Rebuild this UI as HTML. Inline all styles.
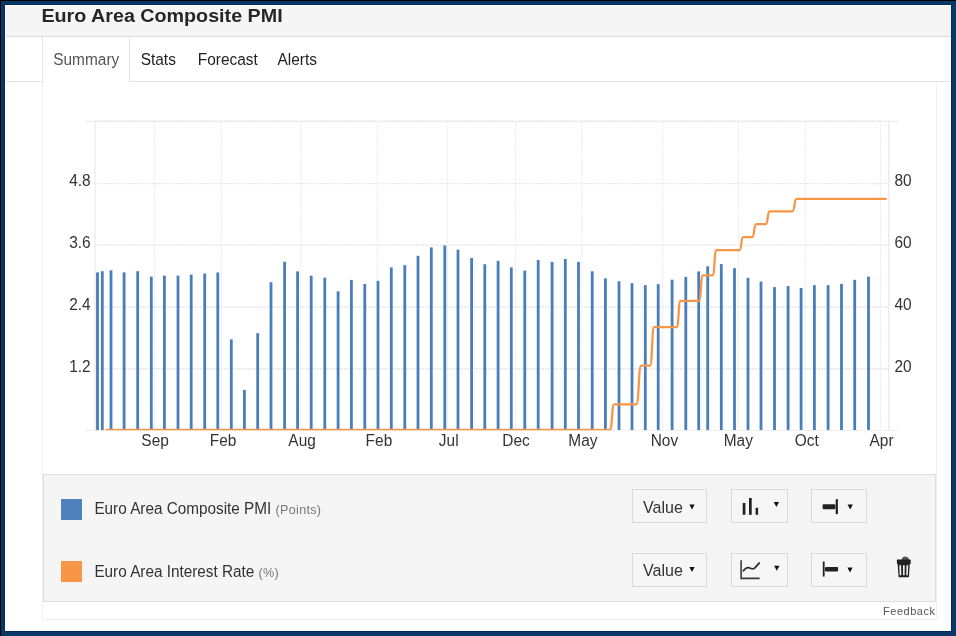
<!DOCTYPE html>
<html><head><meta charset="utf-8"><style>
html,body{margin:0;padding:0;}
body{will-change:transform;width:956px;height:636px;position:relative;overflow:hidden;background:#093866;font-family:"Liberation Sans",sans-serif;}
.abs{position:absolute;}
svg text{font-family:"Liberation Sans",sans-serif;}
</style></head><body>
<div class="abs" style="left:0;top:0;width:956px;height:1px;background:#000"></div>
<div class="abs" style="left:0;top:0;width:1px;height:636px;background:#000"></div>
<div class="abs" style="left:4px;top:4px;width:948px;height:628px;background:#012c5a"></div>
<div class="abs" style="left:5px;top:5px;width:946px;height:626px;background:#fff"></div>
<div class="abs" style="left:6px;top:6px;width:945px;height:30px;background:#f5f5f5;border-bottom:1px solid #dcdcdc"></div>
<div class="abs" style="left:6px;top:81px;width:944px;height:1px;background:#e2e2e2"></div>
<div class="abs" style="left:42px;top:37px;width:86.4px;height:45px;background:#fff;border-left:1px solid #e6e6e6;border-right:1px solid #e2e2e2"></div>
<div class="abs" style="left:42px;top:82px;width:893.4px;height:537px;border-left:1px solid #f0f0f0;border-right:1px solid #f2f2f2;border-bottom:1px solid #f2f2f2"></div>
<svg class="abs" width="956" height="636" viewBox="0 0 956 636" style="left:0;top:0">
<g><line x1="95" y1="183.6" x2="888.7" y2="183.6" stroke="#e8e8e8" stroke-width="1.4" stroke-dasharray="2.2,0.8"/><line x1="95" y1="245.3" x2="888.7" y2="245.3" stroke="#e8e8e8" stroke-width="1.4" stroke-dasharray="2.2,0.8"/><line x1="95" y1="307.0" x2="888.7" y2="307.0" stroke="#e8e8e8" stroke-width="1.4" stroke-dasharray="2.2,0.8"/><line x1="95" y1="368.8" x2="888.7" y2="368.8" stroke="#e8e8e8" stroke-width="1.4" stroke-dasharray="2.2,0.8"/><line x1="95" y1="121.3" x2="888.7" y2="121.3" stroke="#e6e6e6" stroke-width="1.4" stroke-dasharray="2.2,0.8"/><line x1="85" y1="121.3" x2="95" y2="121.3" stroke="#ebebeb" stroke-width="1.2"/><line x1="888.7" y1="121.3" x2="898.5" y2="121.3" stroke="#ebebeb" stroke-width="1.2"/><line x1="154.4" y1="121.3" x2="154.4" y2="430" stroke="#eeeeee" stroke-width="1.2" stroke-dasharray="2.5,1"/><line x1="221.4" y1="121.3" x2="221.4" y2="430" stroke="#eeeeee" stroke-width="1.2" stroke-dasharray="2.5,1"/><line x1="300.9" y1="121.3" x2="300.9" y2="430" stroke="#eeeeee" stroke-width="1.2" stroke-dasharray="2.5,1"/><line x1="377.4" y1="121.3" x2="377.4" y2="430" stroke="#eeeeee" stroke-width="1.2" stroke-dasharray="2.5,1"/><line x1="447.3" y1="121.3" x2="447.3" y2="430" stroke="#eeeeee" stroke-width="1.2" stroke-dasharray="2.5,1"/><line x1="515.5" y1="121.3" x2="515.5" y2="430" stroke="#eeeeee" stroke-width="1.2" stroke-dasharray="2.5,1"/><line x1="582.0" y1="121.3" x2="582.0" y2="430" stroke="#eeeeee" stroke-width="1.2" stroke-dasharray="2.5,1"/><line x1="662.6" y1="121.3" x2="662.6" y2="430" stroke="#eeeeee" stroke-width="1.2" stroke-dasharray="2.5,1"/><line x1="738.3" y1="121.3" x2="738.3" y2="430" stroke="#eeeeee" stroke-width="1.2" stroke-dasharray="2.5,1"/><line x1="805.1" y1="121.3" x2="805.1" y2="430" stroke="#eeeeee" stroke-width="1.2" stroke-dasharray="2.5,1"/><line x1="880.5" y1="121.3" x2="880.5" y2="430" stroke="#eeeeee" stroke-width="1.2" stroke-dasharray="2.5,1"/><line x1="95" y1="121" x2="95" y2="430" stroke="#ebebeb" stroke-width="1.4"/><line x1="888.7" y1="121" x2="888.7" y2="430" stroke="#ebebeb" stroke-width="1.4"/><line x1="85" y1="430.5" x2="898" y2="430.5" stroke="#eeeeee" stroke-width="1"/></g>
<g fill="#4a7dbc"><rect x="96.10" y="272.4" width="2.8" height="157.6"/><rect x="100.90" y="271.2" width="2.8" height="158.8"/><rect x="109.60" y="270.3" width="2.8" height="159.7"/><rect x="122.70" y="272.4" width="2.8" height="157.6"/><rect x="136.30" y="271.2" width="2.8" height="158.8"/><rect x="149.90" y="276.6" width="2.8" height="153.4"/><rect x="163.00" y="275.6" width="2.8" height="154.4"/><rect x="176.60" y="275.6" width="2.8" height="154.4"/><rect x="189.80" y="274.7" width="2.8" height="155.3"/><rect x="203.30" y="273.5" width="2.8" height="156.5"/><rect x="216.40" y="272.5" width="2.8" height="157.5"/><rect x="229.90" y="339.4" width="2.8" height="90.6"/><rect x="243.00" y="389.9" width="2.8" height="40.1"/><rect x="256.30" y="333.2" width="2.8" height="96.8"/><rect x="269.60" y="282.2" width="2.8" height="147.8"/><rect x="283.20" y="261.8" width="2.8" height="168.2"/><rect x="296.20" y="271.4" width="2.8" height="158.6"/><rect x="309.80" y="275.7" width="2.8" height="154.3"/><rect x="323.40" y="277.7" width="2.8" height="152.3"/><rect x="336.70" y="291.3" width="2.8" height="138.7"/><rect x="350.00" y="279.9" width="2.8" height="150.1"/><rect x="363.40" y="283.9" width="2.8" height="146.1"/><rect x="376.60" y="280.8" width="2.8" height="149.2"/><rect x="389.90" y="267.4" width="2.8" height="162.6"/><rect x="403.40" y="265.1" width="2.8" height="164.9"/><rect x="416.60" y="255.8" width="2.8" height="174.2"/><rect x="429.90" y="247.4" width="2.8" height="182.6"/><rect x="443.40" y="245.5" width="2.8" height="184.5"/><rect x="456.60" y="249.7" width="2.8" height="180.3"/><rect x="470.20" y="258.0" width="2.8" height="172.0"/><rect x="483.40" y="264.2" width="2.8" height="165.8"/><rect x="496.70" y="260.9" width="2.8" height="169.1"/><rect x="509.90" y="267.4" width="2.8" height="162.6"/><rect x="523.40" y="270.6" width="2.8" height="159.4"/><rect x="536.80" y="260.0" width="2.8" height="170.0"/><rect x="550.70" y="261.9" width="2.8" height="168.1"/><rect x="563.90" y="259.0" width="2.8" height="171.0"/><rect x="577.10" y="261.9" width="2.8" height="168.1"/><rect x="590.80" y="271.3" width="2.8" height="158.7"/><rect x="604.00" y="278.3" width="2.8" height="151.7"/><rect x="617.60" y="281.2" width="2.8" height="148.8"/><rect x="630.60" y="283.2" width="2.8" height="146.8"/><rect x="643.90" y="285.1" width="2.8" height="144.9"/><rect x="656.80" y="284.2" width="2.8" height="145.8"/><rect x="670.70" y="279.7" width="2.8" height="150.3"/><rect x="684.40" y="276.9" width="2.8" height="153.1"/><rect x="697.30" y="271.4" width="2.8" height="158.6"/><rect x="706.30" y="266.3" width="2.8" height="163.7"/><rect x="719.90" y="264.1" width="2.8" height="165.9"/><rect x="733.10" y="268.2" width="2.8" height="161.8"/><rect x="746.60" y="277.8" width="2.8" height="152.2"/><rect x="759.60" y="281.6" width="2.8" height="148.4"/><rect x="773.10" y="287.1" width="2.8" height="142.9"/><rect x="786.70" y="286.1" width="2.8" height="143.9"/><rect x="799.70" y="288.0" width="2.8" height="142.0"/><rect x="813.00" y="285.2" width="2.8" height="144.8"/><rect x="826.70" y="285.2" width="2.8" height="144.8"/><rect x="840.10" y="283.9" width="2.8" height="146.1"/><rect x="853.30" y="279.8" width="2.8" height="150.2"/><rect x="867.10" y="276.6" width="2.8" height="153.4"/></g>
<defs><clipPath id="pc"><rect x="95" y="100" width="800" height="330.3"/></clipPath></defs>
<path clip-path="url(#pc)" d="M105.6,429.9 L609.8,429.9 C612.44,429.9 611.56,404.3 614.2,404.3 L636.2,404.3 C639.26,404.3 638.24,365.7 641.3,365.7 L650,365.7 C652.52,365.7 651.68,327.1 654.2,327.1 L676.6,327.1 C679.00,327.1 678.20,300.8 680.6,300.8 L698.8,300.8 C701.32,300.8 700.48,275.4 703,275.4 L712.5,275.4 C714.90,275.4 714.10,250.1 716.5,250.1 L739.6,250.1 C741.70,250.1 741.00,237.2 743.1,237.2 L752.1,237.2 C754.62,237.2 753.78,224.1 756.3,224.1 L765.7,224.1 C768.10,224.1 767.30,211.4 769.7,211.4 L792.4,211.4 C794.86,211.4 794.04,198.8 796.5,198.8 L886.6,198.8" fill="none" stroke="#f79646" stroke-width="2.3" stroke-linejoin="round"/>
</svg>
<div class="abs" style="left:43px;top:474px;width:891px;height:126px;background:#f5f5f5;border:1px solid #dedede"></div>
<div class="abs" style="left:61px;top:498.5px;width:21px;height:21px;background:#4f81bd"></div>
<div class="abs" style="left:61px;top:561.2px;width:21px;height:21px;background:#f79646"></div>
<div class="abs" style="left:632px;top:489px;width:75px;height:34px;background:#f6f6f6;border:1px solid #dadada;box-sizing:border-box"></div><div class="abs" style="left:731px;top:489px;width:57px;height:34px;background:#f6f6f6;border:1px solid #dadada;box-sizing:border-box"></div><div class="abs" style="left:811px;top:489px;width:56px;height:34px;background:#f6f6f6;border:1px solid #dadada;box-sizing:border-box"></div><div class="abs" style="left:632px;top:553px;width:75px;height:34px;background:#f6f6f6;border:1px solid #dadada;box-sizing:border-box"></div><div class="abs" style="left:731px;top:553px;width:57px;height:34px;background:#f6f6f6;border:1px solid #dadada;box-sizing:border-box"></div><div class="abs" style="left:811px;top:553px;width:56px;height:34px;background:#f6f6f6;border:1px solid #dadada;box-sizing:border-box"></div>
<svg class="abs" width="956" height="636" viewBox="0 0 956 636" style="left:0;top:0">
<text transform="translate(41.4,22.3) scale(1,0.96)" font-size="19.72" fill="#262626" font-weight="bold">Euro Area Composite PMI</text><text transform="translate(53.2,65.0) scale(1.03,1.12)" font-size="15" fill="#555">Summary</text><text transform="translate(140.7,65.0) scale(1.03,1.12)" font-size="15" fill="#222">Stats</text><text transform="translate(197.8,65.0) scale(1.03,1.12)" font-size="15" fill="#222">Forecast</text><text transform="translate(277.5,65.0) scale(1.03,1.12)" font-size="15" fill="#222">Alerts</text><text transform="translate(90.6,185.8) scale(1.03,1.12)" font-size="15" fill="#333" text-anchor="end">4.8</text><text transform="translate(90.6,247.5) scale(1.03,1.12)" font-size="15" fill="#333" text-anchor="end">3.6</text><text transform="translate(90.6,309.5) scale(1.03,1.12)" font-size="15" fill="#333" text-anchor="end">2.4</text><text transform="translate(90.6,371.6) scale(1.03,1.12)" font-size="15" fill="#333" text-anchor="end">1.2</text><text transform="translate(894.4,185.8) scale(1.03,1.12)" font-size="15" fill="#333">80</text><text transform="translate(894.4,247.5) scale(1.03,1.12)" font-size="15" fill="#333">60</text><text transform="translate(894.4,309.5) scale(1.03,1.12)" font-size="15" fill="#333">40</text><text transform="translate(894.4,371.6) scale(1.03,1.12)" font-size="15" fill="#333">20</text><text transform="translate(155.1,446.1) scale(1.03,1.07)" font-size="15" fill="#333" text-anchor="middle">Sep</text><text transform="translate(223,446.1) scale(1.03,1.07)" font-size="15" fill="#333" text-anchor="middle">Feb</text><text transform="translate(302.1,446.1) scale(1.03,1.07)" font-size="15" fill="#333" text-anchor="middle">Aug</text><text transform="translate(378.9,446.1) scale(1.03,1.07)" font-size="15" fill="#333" text-anchor="middle">Feb</text><text transform="translate(448.7,446.1) scale(1.03,1.07)" font-size="15" fill="#333" text-anchor="middle">Jul</text><text transform="translate(516,446.1) scale(1.03,1.07)" font-size="15" fill="#333" text-anchor="middle">Dec</text><text transform="translate(582.9,446.1) scale(1.03,1.07)" font-size="15" fill="#333" text-anchor="middle">May</text><text transform="translate(664.4,446.1) scale(1.03,1.07)" font-size="15" fill="#333" text-anchor="middle">Nov</text><text transform="translate(738.3,446.1) scale(1.03,1.07)" font-size="15" fill="#333" text-anchor="middle">May</text><text transform="translate(806.7,446.1) scale(1.03,1.07)" font-size="15" fill="#333" text-anchor="middle">Oct</text><text transform="translate(881.5,446.1) scale(1.03,1.07)" font-size="15" fill="#333" text-anchor="middle">Apr</text><text transform="translate(94.4,513.8) scale(1.008,1.08)" font-size="15.2" fill="#333">Euro Area Composite PMI <tspan font-size="12.5" fill="#777" letter-spacing="0.3">(Points)</tspan></text><text transform="translate(94.4,576.6) scale(1.008,1.08)" font-size="15.2" fill="#333">Euro Area Interest Rate <tspan font-size="12.5" fill="#777" letter-spacing="0.3">(%)</tspan></text><text transform="translate(643.0,512.9) scale(1.07,1.12)" font-size="15" fill="#333">Value</text><text transform="translate(643.0,575.6) scale(1.07,1.12)" font-size="15" fill="#333">Value</text><text transform="translate(883.0,614.6) scale(1.0,1.02)" font-size="11" fill="#555" letter-spacing="0.52">Feedback</text>
<path d="M689.35,504.6 L694.65,504.6 L692.00,509.60 Z" fill="#111"/>
<path d="M773.75,502 L779.05,502 L776.40,507.00 Z" fill="#111"/>
<path d="M847.55,504.5 L852.85,504.5 L850.20,509.50 Z" fill="#111"/>
<path d="M689.35,566.9 L694.65,566.9 L692.00,571.90 Z" fill="#111"/>
<path d="M774.15,565.8 L779.45,565.8 L776.80,570.80 Z" fill="#111"/>
<path d="M847.35,567.4 L852.65,567.4 L850.00,572.40 Z" fill="#111"/>
<g fill="#222">
<rect x="742.7" y="503" width="2.7" height="11.8"/>
<rect x="749" y="498" width="2.7" height="16.8"/>
<rect x="755.6" y="507.8" width="2.5" height="7"/>
<rect x="822.6" y="504.2" width="12.8" height="5.1" rx="1"/>
<rect x="835.7" y="499.1" width="2.2" height="15"/>
<rect x="822.8" y="561.5" width="1.8" height="15.1"/>
<rect x="825" y="567" width="13.1" height="4.6" rx="1"/>
</g>
<path d="M741.1,560.2 V578.4 H759.6" fill="none" stroke="#3a3a3a" stroke-width="1.6"/>
<path d="M743.4,570.8 C745,568.5 746.8,567.3 748.6,567.6 C750.5,568 752,569.8 754,568.6 C756,567.3 757.5,564.3 759.3,563" fill="none" stroke="#333" stroke-width="1.8" stroke-linecap="round"/>
<path d="M901.5,560.2 C902,557.6 903.5,556.6 905,556.6 C907,556.6 908.6,557.4 909.3,560.2 Z" fill="#555"/>
<path d="M896.8,560.3 Q896.6,559.6 897.6,559.6 L909.8,559.6 Q910.9,559.6 910.8,560.6 L910.6,563.9 L897,563.9 Z" fill="#222"/>
<path d="M897.6,563.6 L909.8,563.6 L908.9,577.2 L898.6,577.2 Z" fill="#222"/>
<g fill="#f5f5f5">
<path d="M899.3,565.3 L901.1,565.3 L901.3,575.2 L899.7,575.2 Z"/>
<path d="M903.0,565.3 L904.7,565.3 L904.6,575.2 L903.1,575.2 Z"/>
<path d="M906.5,565.3 L908.2,565.3 L907.8,575.2 L906.3,575.2 Z"/>
</g>
</svg>
</body></html>
